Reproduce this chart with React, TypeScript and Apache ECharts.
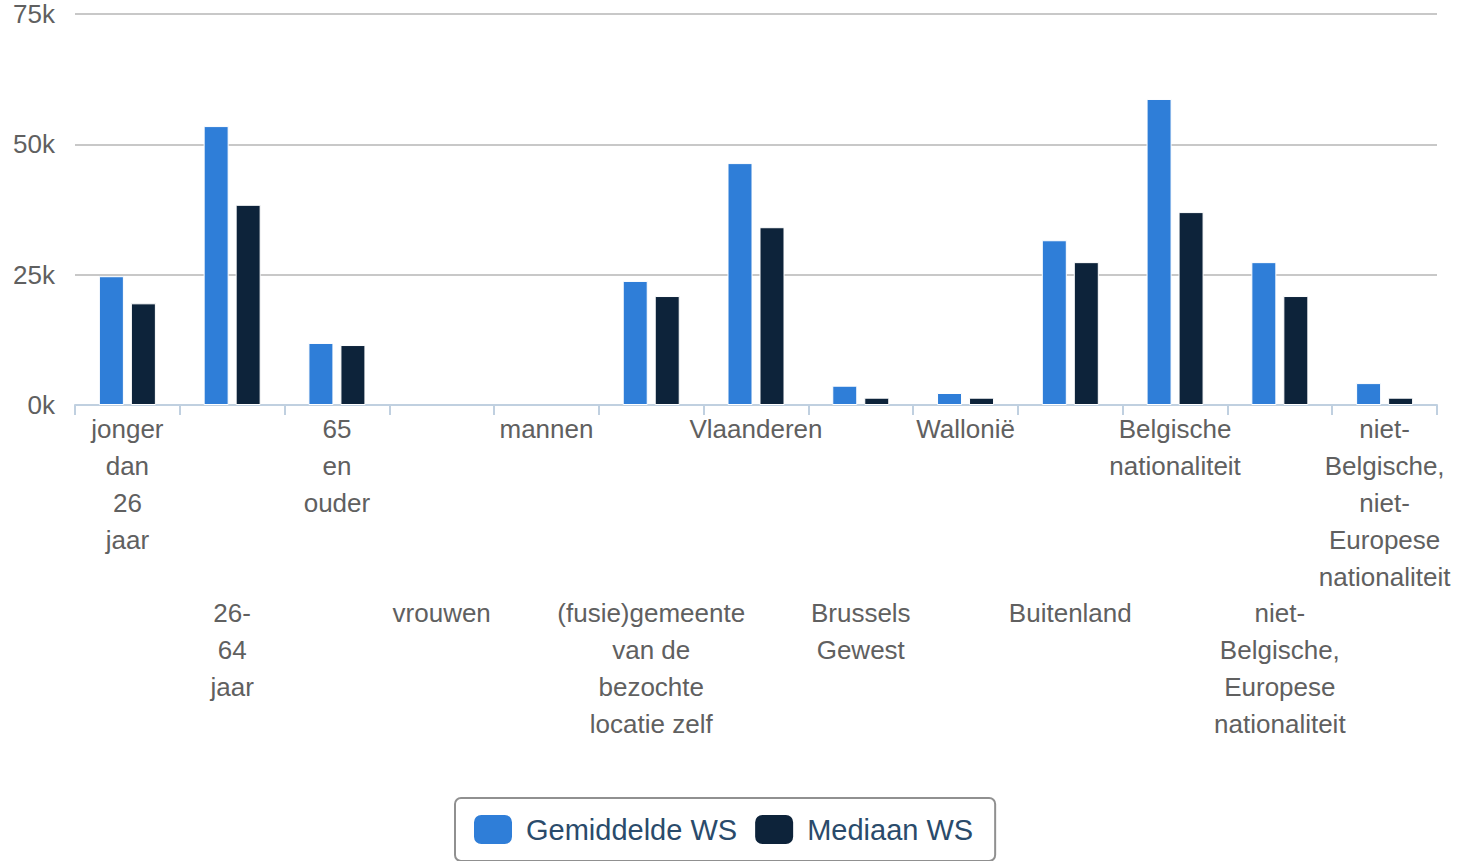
import React, { useEffect, useRef } from "react";
import * as echarts from "echarts";

const categories = [
  "jonger dan 26 jaar",
  "26-64 jaar",
  "65 en ouder",
  "vrouwen",
  "mannen",
  "(fusie)gemeente van de bezochte locatie zelf",
  "Vlaanderen",
  "Brussels Gewest",
  "Wallonië",
  "Buitenland",
  "Belgische nationaliteit",
  "niet-Belgische, Europese nationaliteit",
  "niet-Belgische, niet-Europese nationaliteit",
];

// wrapped tick labels as they appear in the chart
const tickLabels = [
  "jonger\ndan\n26\njaar",
  "26-\n64\njaar",
  "65\nen\nouder",
  "vrouwen",
  "mannen",
  "(fusie)gemeente\nvan de\nbezochte\nlocatie zelf",
  "Vlaanderen",
  "Brussels\nGewest",
  "Wallonië",
  "Buitenland",
  "Belgische\nnationaliteit",
  "niet-\nBelgische,\nEuropese\nnationaliteit",
  "niet-\nBelgische,\nniet-\nEuropese\nnationaliteit",
];

const gemiddeldeWS = [24700, 53500, 11900, null, null, 23800, 46400, 3700, 2300, 31600, 58700, 27400, 4200];
const mediaanWS = [19500, 38400, 11500, null, null, 20900, 34100, 1400, 1400, 27400, 37000, 20900, 1400];

const yTicks = [0, 25000, 50000, 75000];

const FONT = "'Liberation Sans', Arial, Helvetica, sans-serif";

export default function App() {
  const ref = useRef<HTMLDivElement>(null);

  useEffect(() => {
    if (!ref.current) return;
    const chart = echarts.init(ref.current, undefined, { renderer: "svg" });
    chart.setOption({
      animation: false,
      textStyle: { fontFamily: FONT },
      grid: { left: 75, right: 22, top: 14, bottom: 456, containLabel: false },
      legend: {
        left: 455,
        top: 798,
        padding: [17, 22, 17, 19],
        borderColor: "#909090",
        borderWidth: 2,
        borderRadius: 6,
        itemWidth: 38,
        itemHeight: 29,
        itemGap: 18,
        icon: "roundRect",
        itemStyle: { borderWidth: 0 },
        textStyle: { fontSize: 29, color: "#2a4b6b", fontFamily: FONT, padding: [0, 0, 0, 9] },
        data: ["Gemiddelde WS", "Mediaan WS"],
      },
      xAxis: {
        type: "category",
        data: categories,
        boundaryGap: true,
        axisLine: { show: true, lineStyle: { color: "#c0d0e0", width: 2 } },
        axisTick: { show: true, alignWithLabel: false, length: 10, lineStyle: { color: "#c0d0e0", width: 2 } },
        axisLabel: {
          interval: 0,
          margin: 6,
          fontSize: 26,
          lineHeight: 36.8,
          color: "#606060",
          fontFamily: FONT,
          align: "center",
          verticalAlign: "top",
          formatter: (_v: string, i: number) =>
            i % 2 === 1 ? "\n\n\n\n\n" + tickLabels[i] : tickLabels[i],
        },
        splitLine: { show: false },
      },
      yAxis: {
        type: "value",
        min: yTicks[0],
        max: yTicks[yTicks.length - 1],
        interval: 25000,
        axisLine: { show: false },
        axisTick: { show: false },
        axisLabel: {
          margin: 20,
          fontSize: 26,
          color: "#606060",
          fontFamily: FONT,
          padding: [5, 0, 0, 0],
          formatter: (v: number) => v / 1000 + "k",
        },
        splitLine: { show: true, lineStyle: { color: "#c8c8c8", width: 2 } },
      },
      series: [
        {
          name: "Gemiddelde WS",
          type: "bar",
          data: gemiddeldeWS,
          barWidth: 25,
          barGap: "28%",
          itemStyle: { color: "#2f7ed8", borderColor: "#ffffff", borderWidth: 1 },
        },
        {
          name: "Mediaan WS",
          type: "bar",
          data: mediaanWS,
          barWidth: 25,
          barGap: "28%",
          itemStyle: { color: "#0d233a", borderColor: "#ffffff", borderWidth: 1 },
        },
      ],
    });
    return () => chart.dispose();
  }, []);

  return (
    <div
      ref={ref}
      style={{ position: "fixed", left: 0, top: 0, width: 1459, height: 861, background: "#fff" }}
    />
  );
}
